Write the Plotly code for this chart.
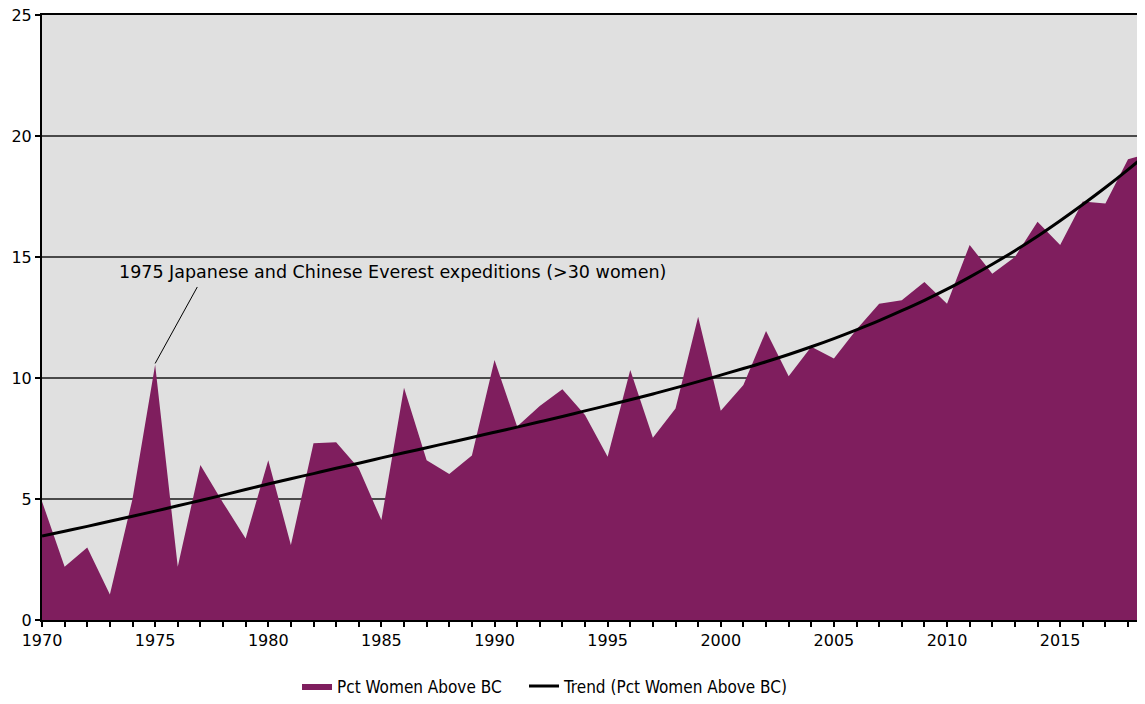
import plotly.graph_objects as go

################
# Data
################

years = list(range(1970, 2020))

pct_women = [
    4.9, 2.2, 3.0, 1.05, 5.0, 10.55, 2.2, 6.4, 4.85, 3.37,
    6.6, 3.1, 7.3, 7.35, 6.27, 4.13, 9.6, 6.6, 6.03, 6.8,
    10.74, 8.0, 8.84, 9.53, 8.47, 6.75, 10.33, 7.53, 8.74, 12.53,
    8.65, 9.71, 11.94, 10.07, 11.29, 10.81, 12.0, 13.07, 13.21, 13.97,
    13.07, 15.5, 14.31, 15.0, 16.46, 15.5, 17.29, 17.21, 19.04, 19.3,
]

trend = [
    3.47, 3.67, 3.87, 4.08, 4.29, 4.50, 4.72, 4.94, 5.16, 5.39,
    5.62, 5.84, 6.05, 6.27, 6.48, 6.70, 6.91, 7.12, 7.33, 7.54,
    7.76, 7.97, 8.19, 8.41, 8.64, 8.87, 9.10, 9.34, 9.59, 9.85,
    10.12, 10.39, 10.67, 10.97, 11.29, 11.63, 11.99, 12.37, 12.78, 13.21,
    13.67, 14.17, 14.70, 15.26, 15.86, 16.50, 17.17, 17.87, 18.61, 19.39,
]

x_tickvals = list(range(1970, 2019))
x_ticktext = [str(y) if y % 5 == 0 else "" for y in x_tickvals]
y_tickvals = [0, 5, 10, 15, 20, 25]

note_text = "1975 Japanese and Chinese Everest expeditions (>30 women)"

################
# Figure
################

font_main = "DejaVu Sans, Verdana, sans-serif"
font_legend = dict(family="DejaVu Sans Condensed, DejaVu Sans, sans-serif", size=17)

fig = go.Figure()

fig.add_trace(go.Scatter(
    x=years,
    y=pct_women,
    name="Pct Women Above BC",
    mode="lines",
    fill="tozeroy",
    fillcolor="#7f1e5e",
    line=dict(color="#7f1e5e", width=0),
    legend="legend",
))

fig.add_trace(go.Scatter(
    x=years,
    y=trend,
    name="Trend (Pct Women Above BC)",
    mode="lines",
    line=dict(color="black", width=3, shape="spline"),
    legend="legend2",
))

# annotation: text and leader line
fig.add_annotation(
    x=1985.47, y=14.38,
    text=note_text,
    showarrow=False,
    xanchor="center", yanchor="middle",
    font=dict(family=font_main, size=17.5, color="black"),
)
fig.add_annotation(
    x=1975, y=10.6,
    text="",
    showarrow=True,
    arrowhead=0,
    arrowwidth=1,
    arrowcolor="black",
    ax=43, ay=-78,
)

# page body adds an 8px margin, so the figure is sized to land the plot
# area where the reference has it (and to avoid page scrolling)
fig.update_layout(
    width=1137,
    height=688,
    margin=dict(l=34, r=0, t=7, b=76, autoexpand=False),
    paper_bgcolor="white",
    plot_bgcolor="#e0e0e0",
    font=dict(family=font_main, size=16, color="black"),
    showlegend=True,
    legend=dict(
        orientation="h",
        x=0.2312, xanchor="left",
        y=-0.11, yanchor="middle",
        font=font_legend,
        itemwidth=30,
    ),
    legend2=dict(
        orientation="h",
        x=0.437, xanchor="left",
        y=-0.11, yanchor="middle",
        font=font_legend,
        itemwidth=30,
    ),
)

fig.update_xaxes(
    range=[1970, 2018.75],
    automargin=False,
    tickmode="array",
    tickvals=x_tickvals,
    ticktext=x_ticktext,
    ticks="outside",
    ticklen=5,
    tickwidth=1.5,
    tickcolor="black",
    showgrid=False,
    zeroline=False,
    showline=True,
    linecolor="black",
    linewidth=2,
    mirror=True,
    ticklabeloverflow="allow",
)

fig.update_yaxes(
    range=[0, 25],
    automargin=False,
    tickmode="array",
    tickvals=y_tickvals,
    ticks="outside",
    ticklen=5,
    tickwidth=1.5,
    tickcolor="black",
    showgrid=True,
    gridcolor="#4a4a4a",
    gridwidth=1.5,
    zeroline=False,
    showline=True,
    linecolor="black",
    linewidth=2,
    ticklabeloverflow="allow",
)

fig.write_html("out.html")
